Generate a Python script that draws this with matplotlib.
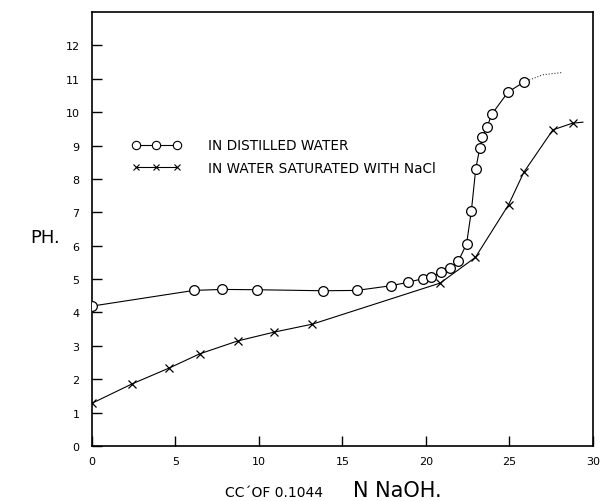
import matplotlib
matplotlib.use("Agg")
import matplotlib.pyplot as plt
from matplotlib.lines import Line2D

# titration of the acid, pH vs cc of 0.1044 N NaOH
# in distilled water (circles)
cc_water = [0.0, 6.1, 7.8, 9.9, 13.85, 15.85, 17.9, 18.9, 19.8, 20.3, 20.9,
            21.45, 21.93, 22.43, 22.72, 22.98, 23.22, 23.38, 23.66, 23.96, 24.91, 25.86]
ph_water = [4.19, 4.66, 4.69, 4.68, 4.65, 4.66, 4.8, 4.9, 5.01, 5.06, 5.2,
            5.33, 5.53, 6.05, 7.05, 8.3, 8.92, 9.25, 9.57, 9.95, 10.6, 10.9]
# dotted continuation past the last reading
cc_water_ext = [25.86, 27.0, 28.2]
ph_water_ext = [10.9, 11.12, 11.19]

# in water saturated with NaCl (crosses)
cc_nacl = [0.0, 2.4, 4.6, 6.45, 8.75, 10.9, 13.2, 20.85, 22.96, 24.95, 25.86, 27.6, 28.78]
ph_nacl = [1.28, 1.86, 2.33, 2.76, 3.15, 3.41, 3.65, 4.88, 5.65, 7.23, 8.2, 9.47, 9.67]

x_ticks = [0, 5, 10, 15, 20, 25, 30]
y_ticks = list(range(0, 13))

plt.rcParams['font.family'] = ['DejaVu Sans']

fig = plt.figure(figsize=(6.02, 5.02), dpi=100)
ax = fig.add_axes([0.1528, 0.1096, 0.8322, 0.8645])

ax.plot(cc_water, ph_water, color='black', lw=0.8, marker='o', ms=7,
        mfc='white', mec='black', mew=0.9, zorder=3)
ax.plot(cc_water_ext, ph_water_ext, color='black', lw=0.7, ls=(0, (1, 2)))
ax.plot(cc_nacl + [29.4], ph_nacl + [9.7], color='black', lw=0.8, zorder=2)
ax.plot(cc_nacl, ph_nacl, ls='none', marker='x', ms=5.5, color='black',
        mew=0.9, zorder=3)

ax.set_xlim(0, 29.85)
ax.set_ylim(0, 13)
ax.set_xticks(x_ticks)
ax.set_yticks(y_ticks)
ax.tick_params(direction='in', length=7, width=1.0, labelsize=8)
ax.tick_params(axis='y', pad=9)
ax.tick_params(axis='x', pad=7)
for s in ax.spines.values():
    s.set_linewidth(1.2)

# legend
h1 = Line2D([], [], color='black', lw=0.8, marker='o', ms=6, mfc='white',
            mec='black', mew=0.8)
h2 = Line2D([], [], color='black', lw=0.8, marker='x', ms=5, mew=0.8)
ax.legend([h1, h2], ['IN DISTILLED WATER', 'IN WATER SATURATED WITH NaCl'],
          numpoints=3, handlelength=3.6, handletextpad=2.0, frameon=False,
          fontsize=9.8, loc='upper left', bbox_to_anchor=(0.055, 0.737),
          labelspacing=0.65)

# axis labels
fig.text(30 / 602, 1 - 238 / 502, 'PH.', fontsize=13, va='center', ha='left')
fig.text(225 / 602, 1 - 497 / 502, 'CC´OF 0.1044', fontsize=10, va='baseline')
fig.text(353 / 602, 1 - 497 / 502, 'N NaOH.', fontsize=15, va='baseline')

fig.savefig('out.png', dpi=100)
